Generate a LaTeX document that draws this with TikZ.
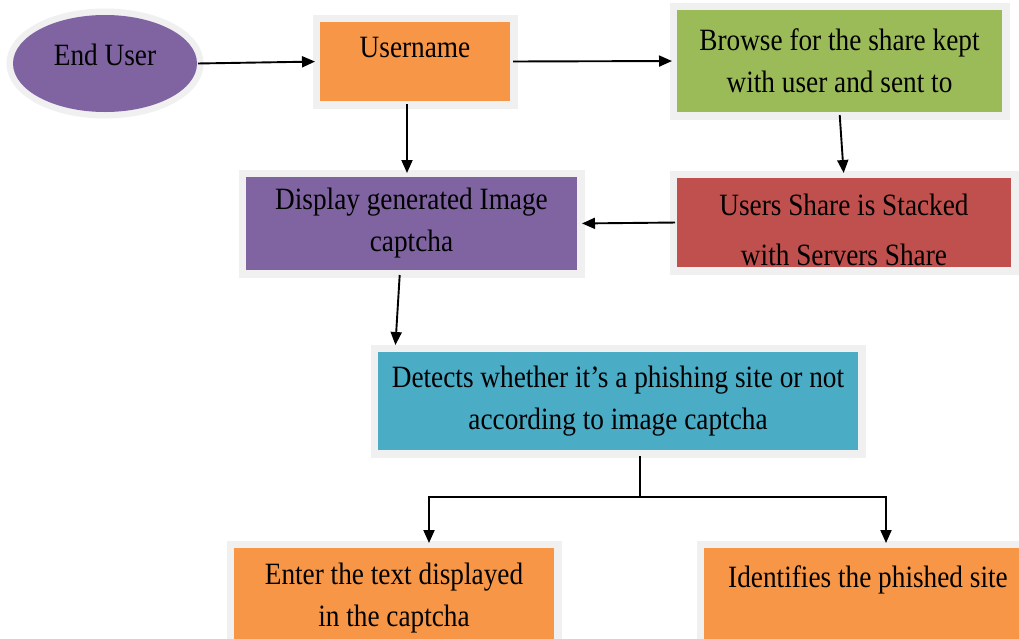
\documentclass[tikz,border=0pt]{standalone}
\usepackage{fontspec}
\newfontfamily\tfont[FakeStretch=0.88]{Liberation Serif}
\usetikzlibrary{arrows.meta,shapes.geometric}

\definecolor{cOrange}{HTML}{F79646}
\definecolor{cGreen}{HTML}{9BBB59}
\definecolor{cRed}{HTML}{C0504D}
\definecolor{cPurple}{HTML}{8064A2}
\definecolor{cAqua}{HTML}{4BACC6}
\definecolor{cEdge}{HTML}{F0F0F0}

\tikzset{
  txt/.style={inner sep=0pt, outer sep=0pt, align=center,
    font={\tfont\fontsize{31}{42}\selectfont}},
  box/.style={txt, rectangle, preaction={draw=cEdge, line width=15pt}},
  oval/.style={txt, ellipse, preaction={draw=cEdge, line width=13pt}},
  ln/.style={line width=1.9pt, black},
  arr/.style={ln, -{Triangle[length=13pt,width=11pt]}}
}

\begin{document}
\begin{tikzpicture}[x=1pt, y=-1pt]
  \clip (0,0) rectangle (1019,638);
  \fill[white] (0,0) rectangle (1019,638);

  % process steps
  \node[oval, fill=cPurple, minimum width=184pt, minimum height=97pt,
        text height=21pt, text depth=18pt] (eu) at (105,63.5) {End User};
  \node[box, fill=cOrange, minimum width=190pt, minimum height=79pt,
        text height=21pt, text depth=30pt] (user) at (415,61.5) {Username};
  \node[box, fill=cGreen, minimum width=325pt, minimum height=102pt]
        (green) at (839.5,61) {Browse for the share kept\\with user and sent to};
  \node[box, fill=cRed, minimum width=334pt, minimum height=89pt]
        (red) at (844,222.5) {};
  \begin{scope}
    \clip (red.south west) rectangle (red.north east);
    \node[txt] (redtext) at (844,229.5) {Users Share is Stacked\\[8pt]with Servers Share};
  \end{scope}
  \node[box, fill=cPurple, minimum width=331pt, minimum height=93pt]
        (purple) at (411.5,223.5) {Display generated Image\\captcha};
  \node[box, fill=cAqua, minimum width=480pt, minimum height=98pt]
        (cyan) at (618,401) {Detects whether it’s a phishing site or not\\according to image captcha};
  \node[box, fill=cOrange, minimum width=320pt, minimum height=100pt]
        (bl) at (394,598) {Enter the text displayed\\in the captcha};
  \node[box, fill=cOrange, minimum width=328pt, minimum height=120pt,
        text height=21pt, text depth=63pt] (br) at (868,608) {Identifies the phished site};

  % connectors
  \draw[arr, shorten <=1pt, shorten >=5pt] (eu.east) -- (user.west);
  \draw[arr, shorten <=3pt, shorten >=5pt] (user.east) -- (green.west);
  \draw[arr, shorten <=3pt, shorten >=4pt] ([xshift=-8pt]user.south) -- ([xshift=-4.5pt]purple.north);
  \draw[arr, shorten <=3pt, shorten >=5pt] (green.south) -- (red.north);
  \draw[arr, shorten <=2pt, shorten >=5pt] (red.west) -- (purple.east);
  \draw[arr, shorten <=5pt, shorten >=7pt] ([xshift=-11.5pt]purple.south) -- ([xshift=-223pt]cyan.north);

  \coordinate (split) at (640,497);
  \draw[ln, shorten <=6pt] ([xshift=22pt]cyan.south) -- (split);
  \draw[arr, shorten >=5pt] (split) -| ([xshift=35pt]bl.north);
  \draw[arr, shorten >=5pt] (split) -| ([xshift=18pt]br.north);
\end{tikzpicture}
\end{document}
